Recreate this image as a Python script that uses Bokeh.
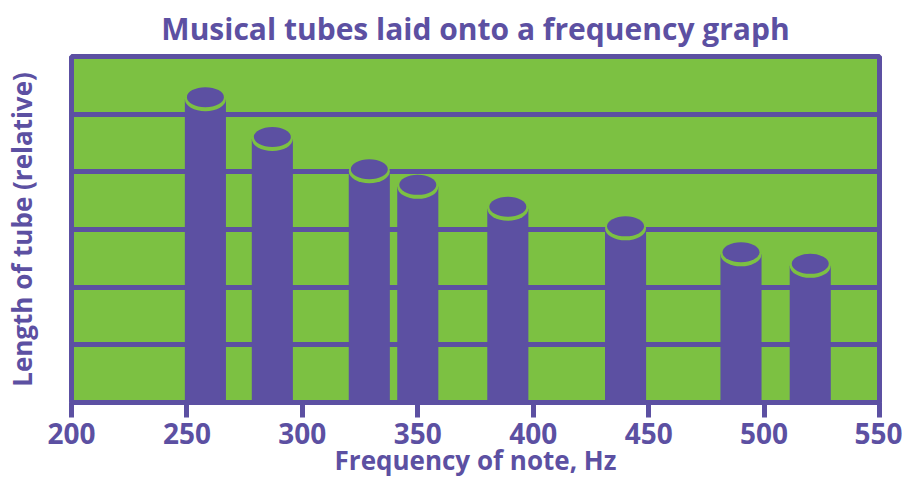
from bokeh.plotting import figure
from bokeh.models import Range1d, FixedTicker
from bokeh.embed import file_html
from bokeh.resources import INLINE

# ---- data ----
frequencies = [258, 287, 329, 350, 389, 440, 490, 520]          # Hz (bar centres)
tube_lengths = [5.26, 4.57, 4.01, 3.74, 3.36, 3.02, 2.57, 2.37]  # relative length
x_ticks = [200, 250, 300, 350, 400, 450, 500, 550]
grid_levels = [1, 2, 3, 4, 5]

title_text = "Musical tubes laid onto a frequency graph"
x_label = "Frequency of note, Hz"
y_label = "Length of tube (relative)"

PURPLE = "#5c50a2"
GREEN = "#7cc142"
FONT = "Open Sans"

W, H = 902, 482
ML, MR, MT, MB = 70, 23, 56, 80
Y0, Y1 = 0, 6
frame_h = H - MT - MB
px_per_unit = frame_h / (Y1 - Y0)

p = figure(width=W, height=H, output_backend="svg", toolbar_location=None,
           x_range=Range1d(200, 550), y_range=Range1d(Y0, Y1),
           min_border_left=ML, min_border_right=MR,
           min_border_top=MT, min_border_bottom=MB)

p.background_fill_color = GREEN
p.border_fill_color = "white"
p.outline_line_color = PURPLE
p.outline_line_width = 5

# title
p.title.text = title_text
p.title.align = "center"
p.title.vertical_align = "top"
p.title.text_color = PURPLE
p.title.text_font = FONT
p.title.text_font_style = "bold"
p.title.text_font_size = "30px"
p.title.standoff = 11

# grid
p.xgrid.visible = False
p.ygrid.ticker = FixedTicker(ticks=grid_levels)
p.ygrid.grid_line_color = PURPLE
p.ygrid.grid_line_width = 5

# x axis
xa = p.xaxis[0]
xa.ticker = FixedTicker(ticks=x_ticks)
xa.axis_line_color = None
xa.major_tick_line_color = PURPLE
xa.major_tick_line_width = 5
xa.major_tick_out = 15
xa.major_tick_in = 0
xa.minor_tick_line_color = None
xa.major_label_text_color = PURPLE
xa.major_label_text_font = FONT
xa.major_label_text_font_style = "bold"
xa.major_label_text_font_size = "28px"
xa.major_label_standoff = 5
xa.axis_label = x_label
xa.axis_label_text_color = PURPLE
xa.axis_label_text_font = FONT
xa.axis_label_text_font_style = "bold"
xa.axis_label_text_font_size = "26px"
xa.axis_label_standoff = -5

# y axis
ya = p.yaxis[0]
ya.ticker = FixedTicker(ticks=[])
ya.axis_line_color = None
ya.major_tick_line_color = None
ya.minor_tick_line_color = None
ya.axis_label = y_label
ya.axis_label_text_color = PURPLE
ya.axis_label_text_font = FONT
ya.axis_label_text_font_style = "bold"
ya.axis_label_text_font_size = "26px"
ya.axis_label_standoff = 32

# tubes
bar_w = 17.8
p.vbar(x=frequencies, top=tube_lengths, bottom=0, width=bar_w,
       fill_color=PURPLE, line_color=None)
# green rim (visible as crescent below the lid)
p.ellipse(x=frequencies, y=tube_lengths, width=41, height=24,
          width_units="screen", height_units="screen",
          fill_color=GREEN, line_color=None)
lid_y = [t + 2 / px_per_unit for t in tube_lengths]
p.ellipse(x=frequencies, y=lid_y, width=37, height=20,
          width_units="screen", height_units="screen",
          fill_color=PURPLE, line_color=None)

open("out.html", "w").write(file_html(p, INLINE))
